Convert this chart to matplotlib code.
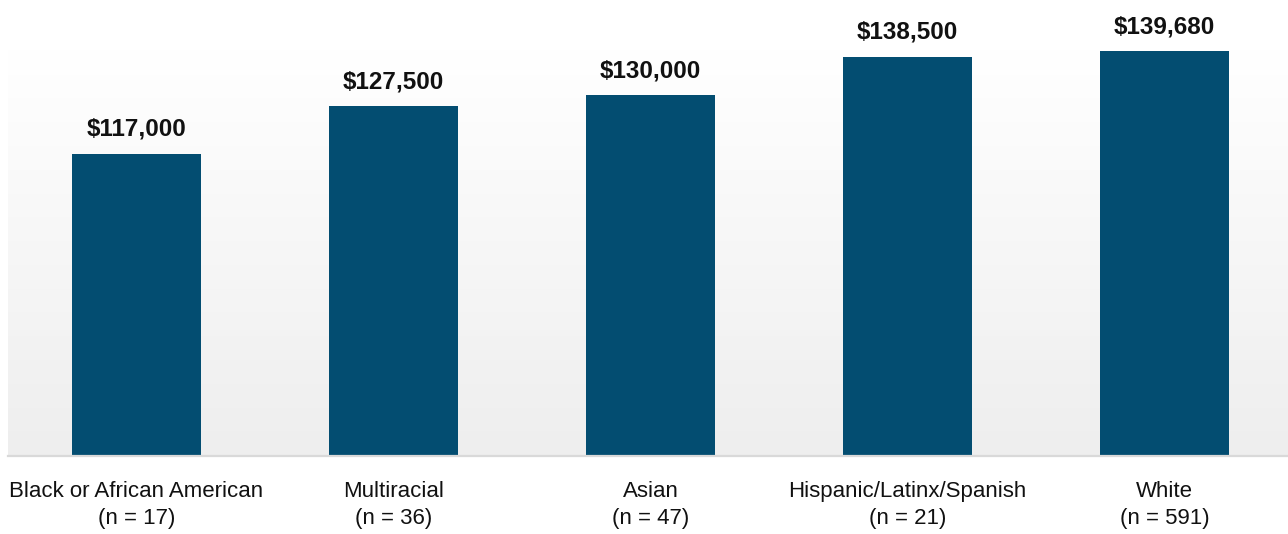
import numpy as np
import matplotlib
matplotlib.use("Agg")
import matplotlib.pyplot as plt
from matplotlib.colors import LinearSegmentedColormap

categories = ["Black or African American", "Multiracial", "Asian",
              "Hispanic/Latinx/Spanish", "White"]
counts = [17, 36, 47, 21, 591]
salaries = [117000, 127500, 130000, 138500, 139680]

BAR_COLOR = "#034d71"
FONT = ["Liberation Sans Narrow", "Liberation Sans", "DejaVu Sans"]

W, H = 1288, 534
fig = plt.figure(figsize=(W / 100, H / 100), dpi=100)
fig.patch.set_facecolor("white")

left, right, top, bottom = 8, 1288, 50, 456
ax = fig.add_axes([left / W, 1 - bottom / H, (right - left) / W, (bottom - top) / H])

x = np.arange(len(categories))
ymin, ymax = 50000, 140000
xlo = -0.5
xhi = xlo + (right - left) / 257.0
ax.set_xlim(xlo, xhi)
ax.set_ylim(ymin, ymax)

# soft vertical background gradient inside the plot area (white at top)
grad = np.linspace(0, 1, 256).reshape(-1, 1)
cmap = LinearSegmentedColormap.from_list("bg", ["#ffffff", "#eeeeee"])
ax.imshow(grad, cmap=cmap, aspect="auto", origin="upper",
          extent=(xlo, xhi, ymin, ymax), zorder=0, interpolation="bicubic")

bars = ax.bar(x, salaries, width=0.5, color=BAR_COLOR, zorder=2)

for xi, v in zip(x, salaries):
    ax.annotate(f"${v:,.0f}", xy=(xi, v), xytext=(0, 13),
                textcoords="offset points", ha="center", va="baseline",
                fontsize=17.5, fontweight="bold", family=FONT, color="#111111",
                annotation_clip=False)

for s in ["top", "right", "left"]:
    ax.spines[s].set_visible(False)
ax.spines["bottom"].set_color("#d9d9d9")
ax.spines["bottom"].set_linewidth(1.6)
ax.spines["bottom"].set_zorder(3)

ax.set_yticks([])
ax.set_xticks(x)
ax.set_xticklabels([f"{c}\n(n = {n})" for c, n in zip(categories, counts)],
                   fontsize=16, family=FONT, color="#111111", linespacing=1.35)
ax.tick_params(axis="x", length=0, pad=18)

fig.savefig("out.png", dpi=100)
